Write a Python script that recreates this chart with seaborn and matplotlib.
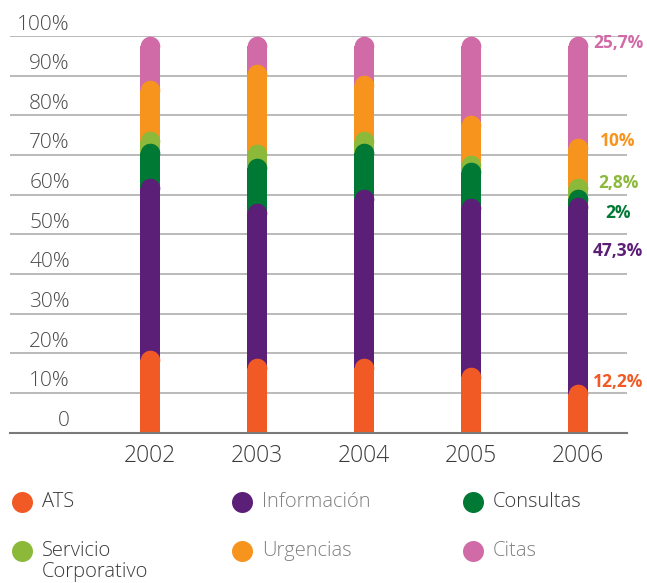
import matplotlib
matplotlib.use("Agg")
import matplotlib.pyplot as plt
import matplotlib.transforms as mtransforms
import seaborn as sns
import pandas as pd

# Share of calls by service, per year (percent)
years = ["2002", "2003", "2004", "2005", "2006"]
ats = [20.9, 18.7, 18.8, 16.6, 12.2]
informacion = [43.3, 39.2, 42.7, 42.5, 47.3]
consultas = [8.9, 11.3, 11.5, 9.0, 2.0]
servicio_corporativo = [2.9, 3.6, 3.0, 2.0, 2.8]
urgencias = [12.8, 20.2, 14.1, 10.1, 10.0]
citas = [11.2, 7.0, 9.9, 19.8, 25.7]

series_names = ["ATS", "Información", "Consultas", "Servicio\nCorporativo",
                "Urgencias", "Citas"]
series_values = [ats, informacion, consultas, servicio_corporativo,
                 urgencias, citas]
colors = ["#F15A24", "#5C1F78", "#007934", "#8DB93A", "#F7941D", "#D16BA8"]
legend_text_colors = ["#3a3a3a", "#808080", "#3a3a3a", "#3a3a3a",
                      "#808080", "#808080"]
y_ticks = [0, 10, 20, 30, 40, 50, 60, 70, 80, 90, 100]
y_tick_labels = ["0", "10%", "20%", "30%", "40%", "50%", "60%", "70%",
                 "80%", "90%", "100%"]

sns.set_theme(style="white")
plt.rcParams["font.family"] = ["Open Sans", "DejaVu Sans"]

W, H, DPI = 647, 583, 100
fig = plt.figure(figsize=(W / DPI, H / DPI), dpi=DPI)
ax_left, ax_right, ax_top, ax_bottom = 10, 627, 36, 432.5
ax = fig.add_axes([ax_left / W, (H - ax_bottom) / H,
                   (ax_right - ax_left) / W, (ax_bottom - ax_top) / H])

# long table with cumulative tops of each segment
rows = []
for name, vals in zip(series_names, series_values):
    for yr, v in zip(years, vals):
        rows.append({"year": yr, "series": name, "value": v})
df = pd.DataFrame(rows)
df["cum"] = df.groupby("year")["value"].cumsum()

bar_px = 20
px_per_unit = (ax_bottom - ax_top) / 100.0
cap_r = (bar_px / 2) / px_per_unit          # cap radius in data units
cat_px = 107.0                               # pixels between categories
bar_w = bar_px / cat_px
marker_pt = (bar_px - 0.4) * 72.0 / DPI

# draw cumulative columns from the top segment down, each with a round cap
for k, (name, col) in enumerate(reversed(list(zip(series_names, colors)))):
    sub = df[df["series"] == name].copy()
    sub["body"] = sub["cum"] - cap_r
    z = 3 + 2 * k
    n_before = len(ax.patches)
    sns.barplot(data=sub, x="year", y="body", order=years, color=col,
                saturation=1, width=bar_w, ax=ax, zorder=z, linewidth=0,
                errorbar=None)
    for p in ax.patches[n_before:]:
        p.set_snap(False)
    xs = [years.index(y) for y in sub["year"]]
    ax.scatter(xs, sub["body"], s=marker_pt ** 2, color=col, marker="o",
               linewidths=0, zorder=z + 0.5)

xmin = -(150 - ax_left) / cat_px
ax.set_xlim(xmin, xmin + (ax_right - ax_left) / cat_px)
ax.set_ylim(0, 100)
ax.set_xlabel("")
ax.set_ylabel("")

# grid and axis
ax.set_axisbelow(True)
ax.set_yticks(y_ticks)
ax.set_yticklabels(y_tick_labels)
ax.yaxis.grid(True, color="#b4b4b4", linewidth=1.3)
ax.xaxis.grid(False)
for s in ["top", "right", "left"]:
    ax.spines[s].set_visible(False)
ax.spines["bottom"].set_color("#7a7a7a")
ax.spines["bottom"].set_linewidth(1.5)
ax.spines["bottom"].set_zorder(50)

ax.tick_params(axis="y", length=0, pad=0, labelsize=15, labelcolor="#4a4a4a")
ax.tick_params(axis="x", length=0, pad=8, labelsize=16.5, labelcolor="#3a3a3a")
shift = mtransforms.ScaledTranslation(0.60, 0.14, fig.dpi_scale_trans)
for lab in ax.get_yticklabels():
    lab.set_horizontalalignment("right")
    lab.set_transform(lab.get_transform() + shift)
    lab.set_fontweight("light")
for lab in ax.get_xticklabels():
    lab.set_fontweight("light")

# value labels for the last year
label_drop_px = [-2, 54, 24, 5, 3.5, 7]
last = len(years) - 1
cum = 0.0
for name, vals, col, drop in zip(series_names, series_values, colors,
                                 label_drop_px):
    v = vals[last]
    cum += v
    txt = f"{v:g}".replace(".", ",") + "%"
    ax.annotate(txt, xy=(last, cum), xytext=(40, -drop),
                textcoords="offset pixels", ha="center", va="center",
                color=col, fontsize=12.5, fontweight="bold",
                annotation_clip=False, zorder=60)

# legend: three columns, two rows
leg_x = [22, 242, 473]
leg_y = [502, 551]
for i, (name, col, tcol) in enumerate(zip(series_names, colors,
                                          legend_text_colors)):
    cx = leg_x[i % 3]
    cy = leg_y[i // 3]
    fig.add_artist(plt.Line2D([cx / W], [1 - cy / H], marker="o",
                              markersize=21 * 72 / DPI, color=col,
                              markeredgewidth=0, linestyle="none",
                              transform=fig.transFigure))
    if "\n" in name:
        fig.text((cx + 20) / W, 1 - (cy - 10) / H, name, ha="left", va="top",
                 fontsize=14.5, color=tcol, fontweight="light",
                 linespacing=1.05)
    else:
        fig.text((cx + 20) / W, 1 - cy / H, name, ha="left", va="center",
                 fontsize=14.5, color=tcol, fontweight="light")

fig.savefig("out.png", dpi=DPI)
